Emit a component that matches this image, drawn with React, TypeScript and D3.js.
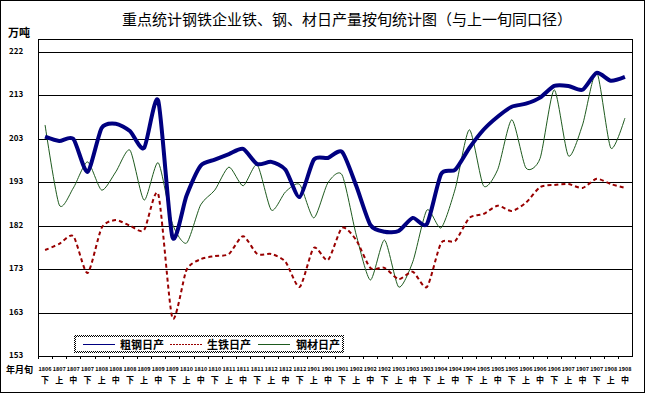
import React from 'react'
import * as d3 from 'd3'

// 旬 periods: 2018-06下 .. 2019-08中
const periods = [
  '1806下', '1807上', '1807中', '1807下', '1808上', '1808中', '1808下', '1809上', '1809中', '1809下',
  '1810上', '1810中', '1810下', '1811上', '1811中', '1811下', '1812上', '1812中', '1812下', '1901上',
  '1901中', '1901下', '1902上', '1902中', '1902下', '1903上', '1903中', '1903下', '1904上', '1904中',
  '1904下', '1905上', '1905中', '1905下', '1906上', '1906中', '1906下', '1907上', '1907中', '1907下',
  '1908上', '1908中',
]

const crudeSteel = [
  203.0, 202.0, 202.5, 194.9, 205.0, 206.0, 204.3, 200.4, 211.3, 179.9,
  189.4, 196.3, 197.7, 199.0, 200.2, 196.7, 197.2, 195.4, 189.1, 197.7,
  198.1, 199.5, 191.7, 182.7, 181.1, 181.3, 184.3, 182.9, 194.4, 195.4,
  200.4, 204.6, 207.6, 209.9, 210.6, 212.0, 214.7, 214.7, 213.8, 217.7,
  215.9, 216.8,
]

const pigIron = [
  176.9, 178.3, 180.1, 171.6, 182.0, 183.8, 182.5, 181.5, 189.8, 161.3,
  172.3, 174.8, 175.5, 176.0, 180.1, 176.0, 176.0, 174.2, 168.4, 177.4,
  174.6, 182.0, 179.2, 172.8, 172.8, 170.2, 171.9, 168.4, 178.5, 179.0,
  184.3, 185.2, 187.1, 185.9, 187.8, 191.4, 191.9, 192.1, 191.2, 193.3,
  192.1, 191.2,
]

const steelProducts = [
  205.7, 187.3, 191.2, 197.2, 190.7, 194.9, 199.9, 188.4, 197.0, 183.0,
  178.5, 187.3, 190.7, 196.0, 191.7, 196.5, 186.1, 190.3, 192.0, 184.3,
  192.4, 194.2, 180.4, 170.0, 179.2, 168.4, 174.2, 186.1, 182.0, 191.0,
  204.6, 191.7, 195.4, 206.9, 195.8, 198.0, 213.8, 198.6, 205.7, 217.9,
  200.4, 207.3,
]

const yTickValues = [152.5, 162.5, 172.5, 182.5, 192.5, 202.5, 212.5, 222.5]
const yTickLabels = ['153', '163', '173', '182', '193', '203', '213', '222']

const series = [
  { name: '粗钢日产', values: crudeSteel, color: '#000080', width: 4, dash: null },
  { name: '生铁日产', values: pigIron, color: '#990000', width: 2, dash: '4,3' },
  { name: '钢材日产', values: steelProducts, color: '#1e5a1e', width: 1, dash: null },
]

const W = 645
const H = 393
const m = { left: 38, right: 13, top: 39, bottom: 37 }
const font = '"Noto Sans CJK SC", "Noto Sans", sans-serif'

export default function App() {
  const iW = W - m.left - m.right
  const iH = H - m.top - m.bottom

  const x = d3.scaleBand<string>().domain(periods).range([m.left, m.left + iW])
  const y = d3.scaleLinear().domain([152.5, 225.5]).range([m.top + iH, m.top])

  const line = (vals: number[]) =>
    d3.line<number>()
      .x((_, i) => (x(periods[i]) || 0) + x.bandwidth() / 2)
      .y(d => y(d))
      .curve(d3.curveCardinal.tension(0.3))(vals) || ''

  const legendItems = [
    { ...series[0], lx: 83, tx: 120 },
    { ...series[1], lx: 170, tx: 207 },
    { ...series[2], lx: 258, tx: 296 },
  ]

  return (
    <svg width={W} height={H} style={{ position: 'absolute', left: 0, top: 0, background: '#fff' }}
      fontFamily={font}>
      <defs>
        <pattern id="chk" width="2" height="2" patternUnits="userSpaceOnUse">
          <rect width="2" height="2" fill="#fff" />
          <rect width="1" height="1" fill="#000" />
          <rect x="1" y="1" width="1" height="1" fill="#000" />
        </pattern>
      </defs>
      <rect x={0.5} y={0.5} width={W - 1} height={H - 1} fill="#fff" stroke="#000" />

      <text x={347} y={25} textAnchor="middle" fontSize={15} fill="#000">
        重点统计钢铁企业铁、钢、材日产量按旬统计图（与上一旬同口径）
      </text>

      <text x={8} y={37} fontSize={11} fontWeight="bold" fill="#000">万吨</text>
      <text x={6} y={373} fontSize={9} fontWeight="bold" fill="#000">年月旬</text>

      {/* gridlines */}
      {yTickValues.map((v, i) => (
        <g key={v}>
          <line x1={m.left} x2={m.left + iW} y1={Math.round(y(v)) + 0.5} y2={Math.round(y(v)) + 0.5} stroke="#000" />
          <text x={9} y={y(v) + 2} fontSize={8} fontWeight="bold" fill="#000">{yTickLabels[i]}</text>
        </g>
      ))}
      <rect x={m.left + 0.5} y={m.top + 0.5} width={iW} height={iH} fill="none" stroke="#000" />

      {/* x ticks */}
      {periods.map(p => (
        <line key={'t' + p} x1={Math.round((x(p) || 0)) + 0.5} x2={Math.round((x(p) || 0)) + 0.5}
          y1={m.top + iH} y2={m.top + iH + 3} stroke="#000" />
      ))}
      {periods.map(p => {
        const cx = (x(p) || 0) + x.bandwidth() / 2
        return (
          <g key={'l' + p}>
            <text x={cx} y={371} textAnchor="middle" fontSize={5.5} fontWeight="bold" fill="#000">{p.slice(0, 4)}</text>
            <text x={cx} y={383} textAnchor="middle" fontSize={8} fontWeight="bold" fill="#000">{p.slice(4)}</text>
          </g>
        )
      })}

      {/* series */}
      {[series[2], series[1], series[0]].map(s => (
        <path key={s.name} d={line(s.values)} fill="none" stroke={s.color} strokeWidth={s.width}
          strokeDasharray={s.dash || undefined} strokeLinejoin="round" />
      ))}

      {/* legend */}
      <rect x={75} y={336} width={268} height={16} fill="#fff" stroke="url(#chk)" strokeWidth={2} />
      {legendItems.map(l => (
        <g key={'lg' + l.name}>
          <line x1={l.lx} x2={l.lx + 32} y1={344.5} y2={344.5} stroke={l.color} strokeWidth={1}
            strokeDasharray={l.dash ? '2,1' : undefined} />
          <text x={l.tx} y={348.5} fontSize={11} fontWeight="bold" fill="#000">{l.name}</text>
        </g>
      ))}
    </svg>
  )
}
